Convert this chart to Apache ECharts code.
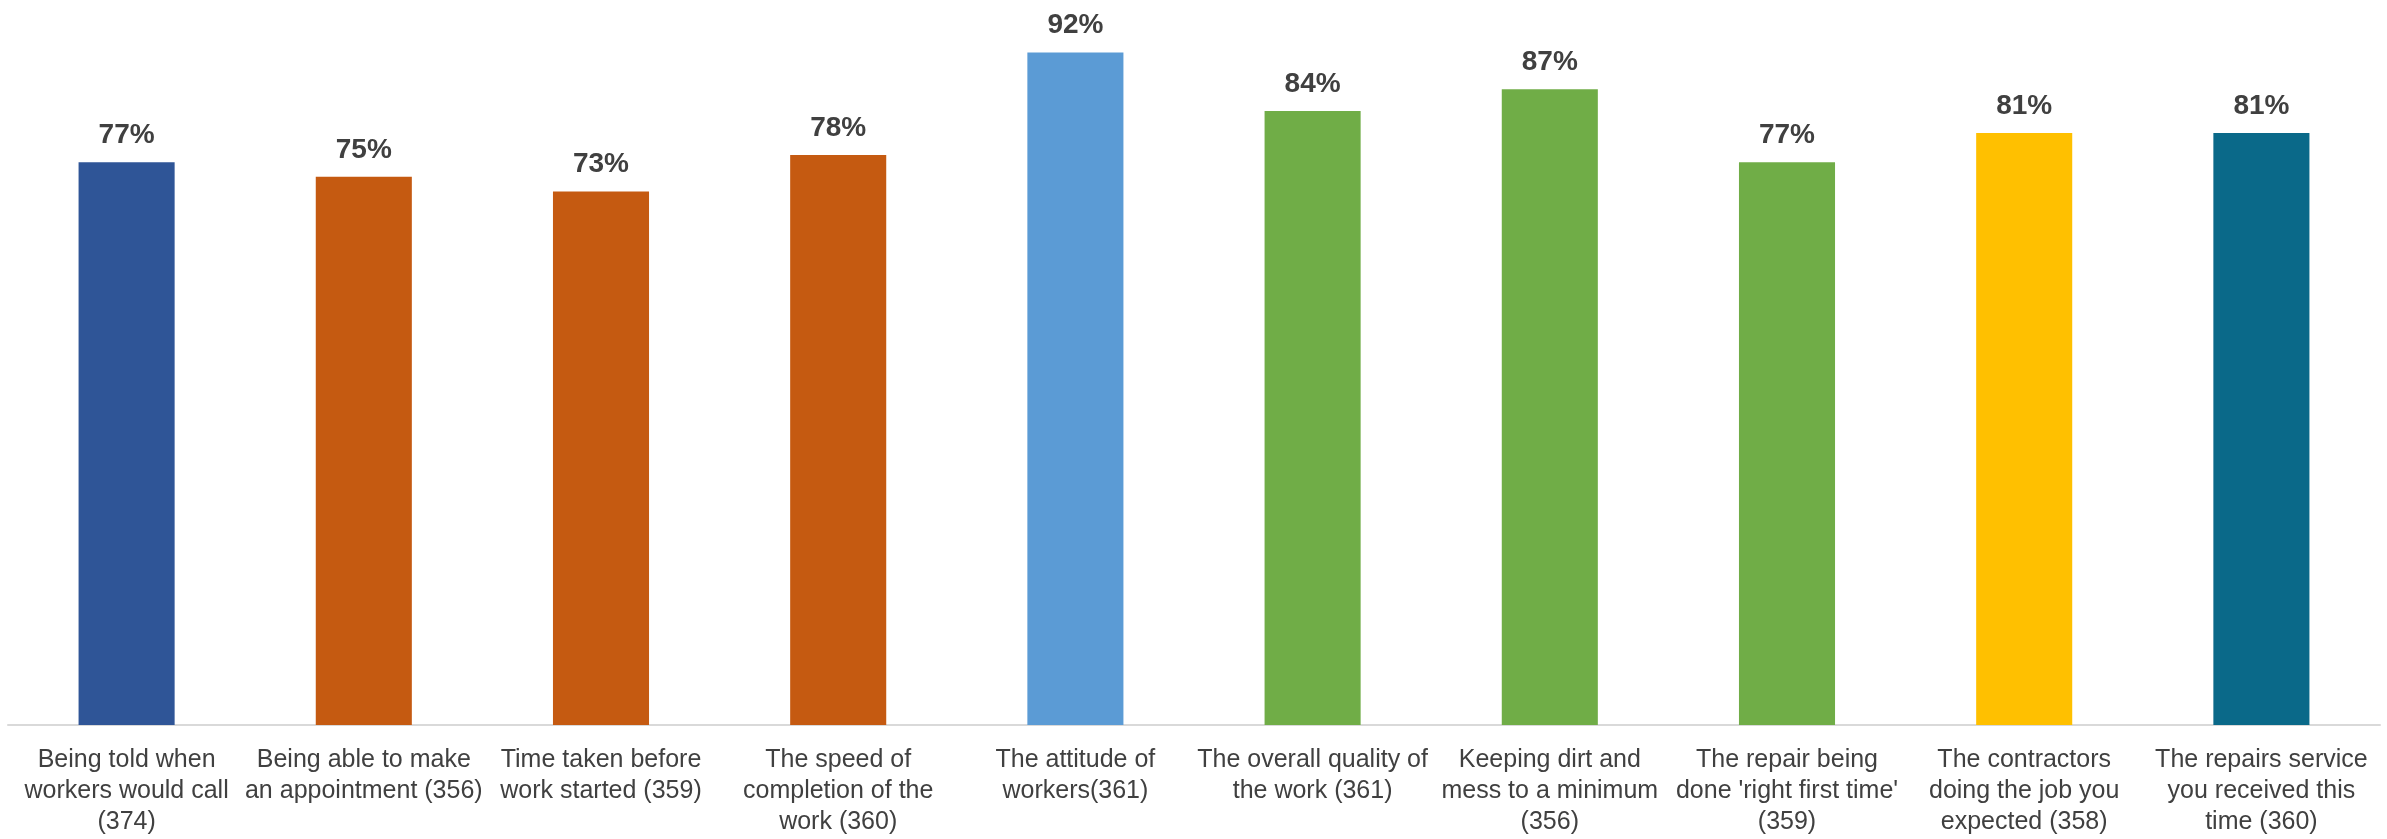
<!DOCTYPE html>
<html>
<head>
<meta charset="utf-8">
<title>Repairs satisfaction</title>
<script src="https://cdn.jsdelivr.net/npm/echarts@6/dist/echarts.min.js"></script>
<style>
  html, body { margin: 0; padding: 0; background: #ffffff; }
  #chart { width: 2387px; height: 839px; }
</style>
</head>
<body>
<div id="chart"></div>
<script>
// Survey aspects, with the number of respondents in brackets
const categories = [
  'Being told when\nworkers would call\n(374)',
  'Being able to make\nan appointment (356)',
  'Time taken before\nwork started (359)',
  'The speed of\ncompletion of the\nwork (360)',
  'The attitude of\nworkers(361)',
  'The overall quality of\nthe work (361)',
  'Keeping dirt and\nmess to a minimum\n(356)',
  "The repair being\ndone 'right first time'\n(359)",
  'The contractors\ndoing the job you\nexpected (358)',
  'The repairs service\nyou received this\ntime (360)'
];

// Percentage satisfied
const satisfied = [77, 75, 73, 78, 92, 84, 87, 77, 81, 81];

// Bar fill per aspect group
const barColors = [
  '#2F5597',
  '#C55A11', '#C55A11', '#C55A11',
  '#5B9BD5',
  '#70AD47', '#70AD47', '#70AD47',
  '#FFC000',
  '#0A6989'
];

const chart = echarts.init(document.getElementById('chart'), null, { renderer: 'canvas' });

chart.setOption({
  animation: false,
  backgroundColor: '#ffffff',
  grid: { left: 8, right: 7, top: 0, bottom: 114, containLabel: false },
  xAxis: {
    type: 'category',
    data: categories,
    axisLine: { show: true, lineStyle: { color: '#D9D9D9', width: 2 } },
    axisTick: { show: false },
    axisLabel: {
      interval: 0,
      margin: 20,
      color: '#404040',
      fontFamily: 'Liberation Sans, Arial, sans-serif',
      fontSize: 25,
      lineHeight: 31,
      align: 'center'
    }
  },
  yAxis: {
    type: 'value',
    min: 0,
    // top edge of the plot sits a little under 100%
    max: 99.2,
    show: false,
    splitLine: { show: false }
  },
  series: [{
    type: 'bar',
    barWidth: '40.5%',
    data: satisfied.map((v, i) => ({ value: v, itemStyle: { color: barColors[i] } })),
    label: {
      show: true,
      position: 'top',
      distance: 13,
      formatter: p => p.value + '%',
      color: '#404040',
      fontFamily: 'Liberation Sans, Arial, sans-serif',
      fontWeight: 'bold',
      fontSize: 28
    }
  }]
});
</script>
</body>
</html>
